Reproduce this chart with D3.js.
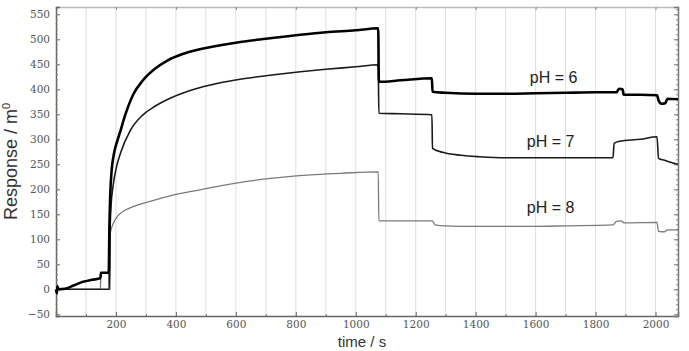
<!DOCTYPE html>
<html>
<head>
<meta charset="utf-8">
<script src="https://cdn.jsdelivr.net/npm/d3@7"></script>
<style>
  body { margin: 0; background: #fff; }
  svg { display: block; }
</style>
</head>
<body>
<svg id="chart" width="689" height="351"></svg>
<script>
// Sensorgram traces, [time s, response m0]
const ph6 = [
  [0, 0], [3, -8], [5, 6], [8, 0], [30, 1], [60, 8], [90, 15], [120, 19], [148, 22],
  [150, 33], [176, 33], [178, 120], [181, 190], [186, 240], [193, 270], [205, 298],
  [214, 315], [230, 347], [258, 390], [290, 418], [330, 441], [370, 457], [420, 470],
  [480, 480], [548, 488], [620, 495], [700, 501], [815, 509], [900, 514], [1000, 518],
  [1075, 522], [1077, 415], [1150, 418], [1254, 422], [1256, 395], [1300, 393],
  [1400, 391], [1500, 391], [1600, 392], [1700, 393], [1800, 394], [1870, 394],
  [1878, 401], [1890, 400], [1894, 389], [1950, 389], [2005, 388], [2010, 378],
  [2020, 371], [2032, 372], [2040, 381], [2075, 380]
];
const ph7 = [
  [0, 0], [148, 0], [176, 0], [178, 0], [180, 110], [184, 170], [190, 205], [200, 240],
  [215, 272], [248, 318], [290, 349], [330, 366], [370, 379], [450, 398], [548, 413],
  [614, 420], [700, 427], [815, 435], [900, 440], [1000, 445], [1075, 449], [1077, 352],
  [1150, 351], [1254, 349], [1256, 282], [1290, 274], [1350, 268], [1414, 265],
  [1500, 263], [1600, 263], [1700, 263], [1858, 263], [1862, 292], [1880, 296],
  [1950, 300], [2005, 305], [2010, 262], [2030, 258], [2050, 254], [2075, 250]
];
const ph8 = [
  [0, 0], [148, 0], [150, 33], [175, 33], [177, 0], [180, 0], [181, 112], [190, 130],
  [205, 146], [230, 158], [260, 166], [314, 176], [380, 187], [481, 199], [548, 207],
  [648, 217], [750, 224], [850, 229], [950, 232], [1075, 235], [1077, 137], [1150, 137],
  [1255, 137], [1265, 129], [1300, 127], [1400, 126], [1500, 126], [1600, 126],
  [1700, 127], [1858, 129], [1870, 136], [1885, 137], [1895, 133], [2005, 134],
  [2010, 116], [2030, 115], [2040, 119], [2075, 119]
];
const labels = [
  { text: 'pH = 6', t: 1660, v: 412 },
  { text: 'pH = 7', t: 1650, v: 284 },
  { text: 'pH = 8', t: 1650, v: 152 }
];
const xTicks = [200, 400, 600, 800, 1000, 1200, 1400, 1600, 1800, 2000];
const yTicks = [-50, 0, 50, 100, 150, 200, 250, 300, 350, 400, 450, 500, 550];

const svg = d3.select('#chart');
const m = { left: 56, right: 11, top: 7, bottom: 35 };
const W = 689, H = 351;
const x = d3.scaleLinear().domain([0, 2075]).range([m.left, W - m.right]);
const y = d3.scaleLinear().domain([-53.4, 564.6]).range([H - m.bottom, m.top]);

// vertical grid every 100 s
svg.append('g')
  .selectAll('line')
  .data(d3.range(100, 2075, 100))
  .join('line')
  .attr('x1', d => x(d)).attr('x2', d => x(d))
  .attr('y1', y.range()[1]).attr('y2', y.range()[0])
  .attr('stroke', '#dedede').attr('stroke-width', 1);

const serif = '"DejaVu Serif", "Liberation Serif", serif';
const fmt = d3.format('d');

// bottom axis
const gx = svg.append('g')
  .attr('transform', `translate(0,${y.range()[0]})`)
  .call(d3.axisBottom(x).tickValues(xTicks).tickFormat(fmt).tickSize(-4).tickPadding(5));
gx.select('.domain').attr('stroke', '#666').attr('stroke-width', 1.5);
gx.selectAll('.tick line').attr('stroke', '#666');
gx.selectAll('text').attr('font-family', serif).attr('font-size', 10.5).attr('fill', '#555');
svg.append('g')
  .attr('transform', `translate(0,${y.range()[0]})`)
  .call(d3.axisBottom(x).tickValues(d3.range(100, 2075, 200)).tickSize(-2).tickFormat(''))
  .call(g => g.select('.domain').remove())
  .selectAll('line').attr('stroke', '#777');

// top frame
const gt = svg.append('g')
  .attr('transform', `translate(0,${y.range()[1]})`)
  .call(d3.axisTop(x).tickValues(xTicks).tickSize(-3).tickFormat(''));
gt.select('.domain').attr('stroke', '#bbb').attr('stroke-width', 1.5);
gt.selectAll('.tick line').attr('stroke', '#888');

// left axis
const gy = svg.append('g')
  .attr('transform', `translate(${x.range()[0]},0)`)
  .call(d3.axisLeft(y).tickValues(yTicks).tickFormat(fmt).tickSize(-4).tickPadding(6));
gy.select('.domain').attr('stroke', '#666').attr('stroke-width', 1.5);
gy.selectAll('.tick line').attr('stroke', '#666');
gy.selectAll('text').attr('font-family', serif).attr('font-size', 10.5).attr('fill', '#555');
svg.append('g')
  .attr('transform', `translate(${x.range()[0]},0)`)
  .call(d3.axisLeft(y).tickValues(d3.range(-50, 561, 10)).tickSize(-2).tickFormat(''))
  .call(g => g.select('.domain').remove())
  .selectAll('line').attr('stroke', '#888');

// right frame with minor ticks
const gr = svg.append('g')
  .attr('transform', `translate(${x.range()[1]},0)`)
  .call(d3.axisRight(y).tickValues(yTicks).tickSize(-4).tickFormat(''));
gr.select('.domain').attr('stroke', '#777').attr('stroke-width', 1.5);
gr.selectAll('.tick line').attr('stroke', '#777');
svg.append('g')
  .attr('transform', `translate(${x.range()[1]},0)`)
  .call(d3.axisRight(y).tickValues(d3.range(-50, 561, 10)).tickSize(-2).tickFormat(''))
  .call(g => g.select('.domain').remove())
  .selectAll('line').attr('stroke', '#888');

// traces
const line = d3.line().x(d => x(d[0])).y(d => y(d[1])).curve(d3.curveMonotoneX);
const traces = [
  { data: ph8, color: '#7a7a7a', width: 1.3 },
  { data: ph7, color: '#1a1a1a', width: 1.6 },
  { data: ph6, color: '#000', width: 2.6 }
];
svg.append('g')
  .selectAll('path')
  .data(traces)
  .join('path')
  .attr('d', d => line(d.data))
  .attr('fill', 'none')
  .attr('stroke', d => d.color)
  .attr('stroke-width', d => d.width)
  .attr('stroke-linejoin', 'round');

const sans = 'Arial, "Liberation Sans", sans-serif';
svg.append('g')
  .selectAll('text')
  .data(labels)
  .join('text')
  .attr('x', d => x(d.t)).attr('y', d => y(d.v))
  .attr('text-anchor', 'middle')
  .attr('font-family', sans).attr('font-size', 16)
  .attr('fill', '#222')
  .text(d => d.text);

// axis titles
const yt = svg.append('text')
  .attr('transform', `translate(17,${(y.range()[0] + y.range()[1]) / 2}) rotate(-90)`)
  .attr('text-anchor', 'middle')
  .attr('font-family', sans).attr('font-size', 18).attr('fill', '#333');
yt.append('tspan').text('Response / m');
yt.append('tspan').attr('dy', -7).attr('font-size', 11).text('0');

svg.append('text')
  .attr('x', 362).attr('y', 347)
  .attr('text-anchor', 'middle')
  .attr('font-family', sans).attr('font-size', 15).attr('fill', '#333')
  .text('time / s');
</script>
</body>
</html>
